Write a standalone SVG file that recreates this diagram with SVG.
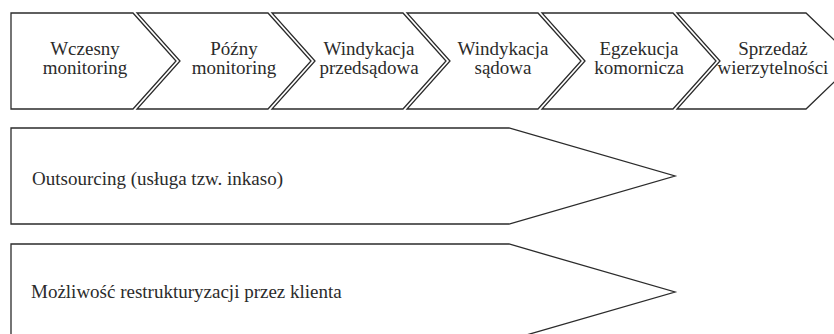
<svg xmlns="http://www.w3.org/2000/svg" width="834" height="334" viewBox="0 0 834 334">
<style>
.s{fill:#fff;stroke:#2b2b2b;stroke-width:1.3;stroke-linejoin:miter}
</style>
<rect x="0" y="0" width="834" height="334" fill="#fff"/>
<g id="step1">
<polygon class="s" points="11,13 133,13 176,61 133,109 11,109"/>
<text font-family="Liberation Serif" font-size="19" fill="#2b2b2b" text-anchor="middle" x="85" y="55">Wczesny</text>
<text font-family="Liberation Serif" font-size="19" fill="#2b2b2b" text-anchor="middle" x="85" y="74">monitoring</text>
</g>
<g id="step2">
<polygon class="s" points="137,13 268,13 311,61 268,109 137,109 180,61"/>
<text font-family="Liberation Serif" font-size="19" fill="#2b2b2b" text-anchor="middle" x="234" y="55">Późny</text>
<text font-family="Liberation Serif" font-size="19" fill="#2b2b2b" text-anchor="middle" x="234" y="74">monitoring</text>
</g>
<g id="step3">
<polygon class="s" points="272,13 403,13 446,61 403,109 272,109 315,61"/>
<text font-family="Liberation Serif" font-size="19" fill="#2b2b2b" text-anchor="middle" x="369" y="55">Windykacja</text>
<text font-family="Liberation Serif" font-size="19" fill="#2b2b2b" text-anchor="middle" x="369" y="74">przedsądowa</text>
</g>
<g id="step4">
<polygon class="s" points="407,13 538,13 581,61 538,109 407,109 450,61"/>
<text font-family="Liberation Serif" font-size="19" fill="#2b2b2b" text-anchor="middle" x="503" y="55">Windykacja</text>
<text font-family="Liberation Serif" font-size="19" fill="#2b2b2b" text-anchor="middle" x="503" y="74">sądowa</text>
</g>
<g id="step5">
<polygon class="s" points="542,13 673,13 716,61 673,109 542,109 585,61"/>
<text font-family="Liberation Serif" font-size="19" fill="#2b2b2b" text-anchor="middle" x="639" y="55">Egzekucja</text>
<text font-family="Liberation Serif" font-size="19" fill="#2b2b2b" text-anchor="middle" x="639" y="74">komornicza</text>
</g>
<g id="step6">
<polygon class="s" points="677,13 806,13 856,61 806,109 677,109 720,61"/>
<text font-family="Liberation Serif" font-size="19" fill="#2b2b2b" text-anchor="middle" x="773" y="55">Sprzedaż</text>
<text font-family="Liberation Serif" font-size="19" fill="#2b2b2b" text-anchor="middle" x="773" y="74">wierzytelności</text>
</g>
<g id="outsourcing">
<polygon class="s" points="11,128 509,128 675,176 509,224 11,224"/>
<text font-family="Liberation Serif" font-size="19" fill="#2b2b2b" x="32" y="185">Outsourcing (usługa tzw. inkaso)</text>
</g>
<g id="restrukturyzacja">
<polygon class="s" points="11,244 509,244 675,292 509,340 11,340"/>
<text font-family="Liberation Serif" font-size="19" fill="#2b2b2b" x="31" y="298">Możliwość restrukturyzacji przez klienta</text>
</g>
<g id="connectors"></g>
</svg>
